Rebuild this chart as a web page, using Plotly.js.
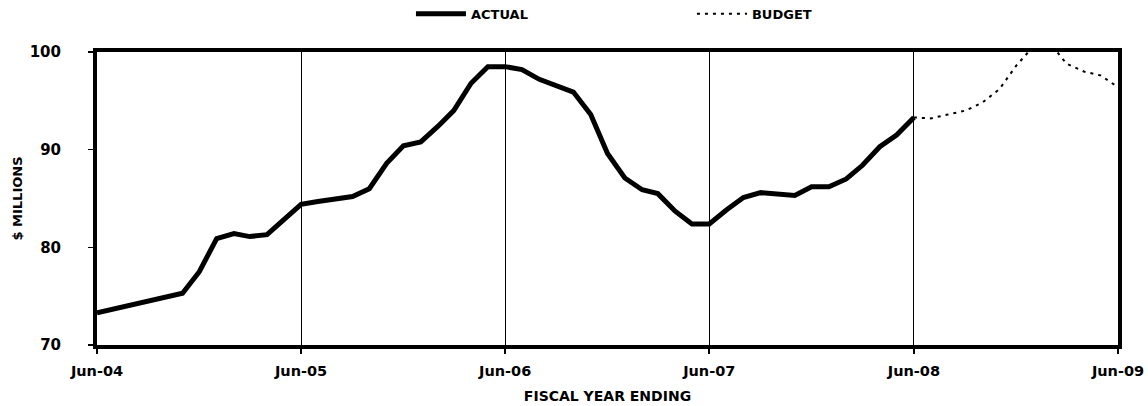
<!DOCTYPE html>
<html>
<head>
<meta charset="utf-8">
<script src="https://cdn.plot.ly/plotly-3.0.1.min.js"></script>
<style>html,body{margin:0;padding:0;background:#fff;}#chart{width:1148px;height:406px;}</style>
</head>
<body>
<div id="chart"></div>
<script>
const actualMonths = [
  "2004-06","2004-07","2004-08","2004-09","2004-10","2004-11","2004-12",
  "2005-01","2005-02","2005-03","2005-04","2005-05","2005-06",
  "2005-07","2005-08","2005-09","2005-10","2005-11","2005-12",
  "2006-01","2006-02","2006-03","2006-04","2006-05","2006-06",
  "2006-07","2006-08","2006-09","2006-10","2006-11","2006-12",
  "2007-01","2007-02","2007-03","2007-04","2007-05","2007-06",
  "2007-07","2007-08","2007-09","2007-10","2007-11","2007-12",
  "2008-01","2008-02","2008-03","2008-04","2008-05","2008-06"
];
const actualValues = [
  73.3, 73.7, 74.0, 74.4, 74.9, 75.3, 77.5,
  80.9, 81.4, 81.1, 81.3, 82.9, 84.4,
  84.7, 84.9, 85.2, 86.0, 88.6, 90.4,
  90.8, 92.4, 94.0, 96.8, 98.5, 98.5,
  98.2, 97.2, 96.6, 95.9, 93.6, 89.6,
  87.1, 85.9, 85.5, 83.7, 82.4, 82.4,
  83.8, 85.1, 85.6, 85.4, 85.3, 86.2,
  86.2, 87.0, 88.4, 90.3, 91.5, 93.3
];
const budgetMonths = [
  "2008-06","2008-07","2008-08","2008-09","2008-10","2008-11","2008-12",
  "2009-01","2009-02","2009-03","2009-04","2009-05","2009-06"
];
const budgetValues = [93.3, 93.2, 93.6, 94.0, 94.8, 96.2, 98.6, 100.6, 100.8, 98.8, 98.0, 97.6, 96.4];
const yearTicks = ["2004-06","2005-06","2006-06","2007-06","2008-06","2009-06"];
const yearLabels = ["Jun-04","Jun-05","Jun-06","Jun-07","Jun-08","Jun-09"];
const seriesNames = ["ACTUAL", "BUDGET"];

const font = "DejaVu Sans, Arial, sans-serif";
const traces = [
  {x: actualMonths, y: actualValues, name: seriesNames[0], type: "scatter", mode: "lines",
   line: {color: "#000", width: 5}},
  {x: budgetMonths, y: budgetValues, name: seriesNames[1], type: "scatter", mode: "lines",
   line: {color: "#000", width: 2, dash: "3px,5px"}}
];
const layout = {
  width: 1148, height: 406,
  margin: {l: 97, r: 30, t: 52, b: 61, autoexpand: false},
  paper_bgcolor: "#fff", plot_bgcolor: "#fff",
  font: {family: font, color: "#000"},
  showlegend: true,
  legend: {orientation: "h", x: 0.3075, xanchor: "left", y: 1.13, yanchor: "middle",
           font: {family: font, size: 13, color: "#000", weight: "bold"},
           itemwidth: 50, entrywidth: 216, entrywidthmode: "pixels", tracegroupgap: 0},
  xaxis: {
    type: "date", range: ["2004-06-01", "2009-06-01"],
    tickvals: yearTicks, ticktext: yearLabels,
    showgrid: true, gridcolor: "#000", gridwidth: 1,
    showline: true, linecolor: "#000", linewidth: 4, mirror: true,
    ticks: "outside", ticklen: 5, tickwidth: 2, tickcolor: "#000",
    ticklabelstandoff: 5,
    tickfont: {family: font, size: 14.5, color: "#000", weight: "bold"},
    title: {text: "FISCAL YEAR ENDING", font: {family: font, size: 14, color: "#000", weight: "bold"}, standoff: 14},
    zeroline: false
  },
  yaxis: {
    range: [70, 100], tickvals: [70, 80, 90, 100],
    showgrid: false,
    showline: true, linecolor: "#000", linewidth: 4, mirror: true,
    ticks: "outside", ticklen: 5, tickwidth: 1.5, tickcolor: "#000",
    ticklabelstandoff: 24,
    tickfont: {family: font, size: 15, color: "#000", weight: "bold"},
    title: {text: "$ MILLIONS", font: {family: font, size: 13, color: "#000", weight: "bold"}, standoff: 5},
    zeroline: false
  }
};
Plotly.newPlot("chart", traces, layout, {displayModeBar: false, staticPlot: true});
</script>
</body>
</html>
